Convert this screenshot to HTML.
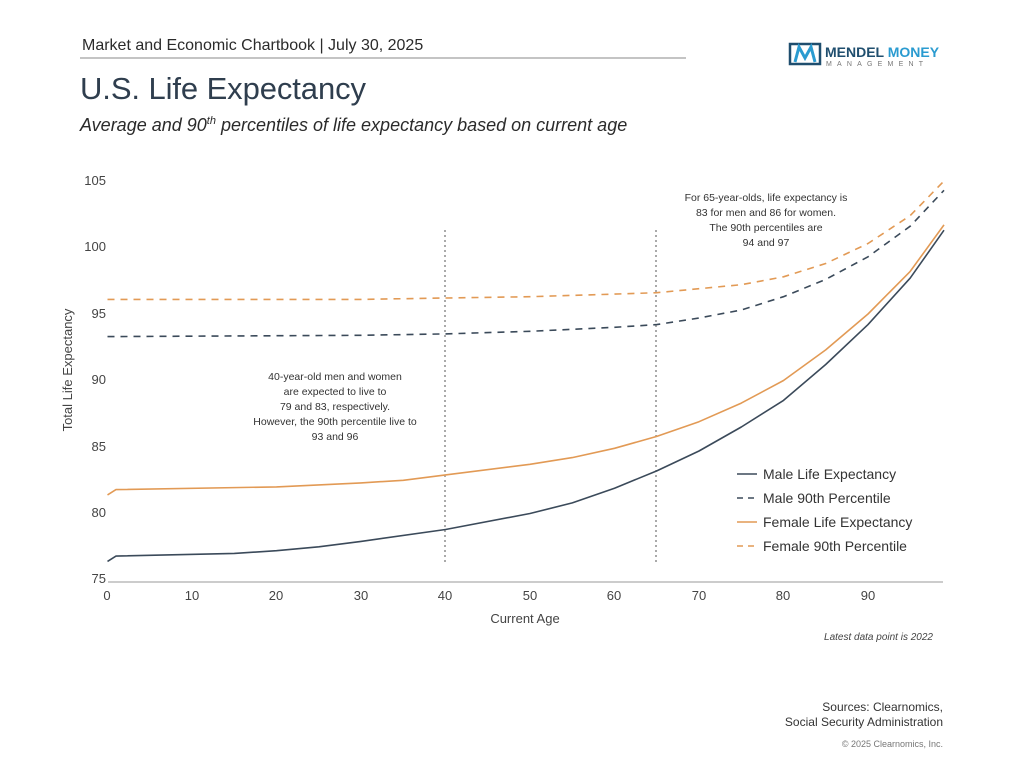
<!DOCTYPE html>
<html><head><meta charset="utf-8"><style>
body{margin:0;width:1024px;height:768px;background:#fff;font-family:"Liberation Sans",sans-serif;overflow:hidden}
</style></head><body>
<svg id="s" width="1024" height="768" xmlns="http://www.w3.org/2000/svg" font-family="Liberation Sans, sans-serif">
<text x="82" y="50" font-size="16" fill="#2b2b2b">Market and Economic Chartbook | July 30, 2025</text>
<line x1="80" y1="58" x2="686" y2="58" stroke="#888" stroke-width="1"/>
<text x="80" y="99" font-size="31" fill="#2f3e4e" textLength="286">U.S. Life Expectancy</text>
<text x="80" y="131" font-size="18" font-style="italic" fill="#2b2b2b">Average and 90<tspan font-size="11" dy="-7">th</tspan><tspan dy="7"> percentiles of life expectancy based on current age</tspan></text>
<rect x="790" y="44" width="30" height="20" fill="none" stroke="#1f4e6e" stroke-width="2.5"/>
<path d="M795 62 L799 47 L805 58 L811 47 L815 62" fill="none" stroke="#2a9bd0" stroke-width="3"/>
<text x="825" y="57" font-size="14" font-weight="bold" fill="#1f4e6e">MENDEL <tspan fill="#2a9bd0">MONEY</tspan></text>
<text x="826" y="66" font-size="7" letter-spacing="5.2" fill="#777">MANAGEMENT</text>
<g font-size="13" fill="#444" text-anchor="end">
<text x="106" y="185">105</text><text x="106" y="251">100</text><text x="106" y="318">95</text><text x="106" y="384">90</text><text x="106" y="451">85</text><text x="106" y="517">80</text><text x="106" y="583">75</text>
</g>
<line x1="108" y1="582" x2="943" y2="582" stroke="#999" stroke-width="1"/>
<g font-size="13" fill="#444" text-anchor="middle">
<text x="107" y="600">0</text><text x="192" y="600">10</text><text x="276" y="600">20</text><text x="361" y="600">30</text><text x="445" y="600">40</text><text x="530" y="600">50</text><text x="614" y="600">60</text><text x="699" y="600">70</text><text x="783" y="600">80</text><text x="868" y="600">90</text>
</g>
<text x="525" y="623" font-size="13" fill="#444" text-anchor="middle">Current Age</text>
<text transform="translate(72,370) rotate(-90)" font-size="13" fill="#444" text-anchor="middle">Total Life Expectancy</text>
<line x1="445" y1="230" x2="445" y2="562" stroke="#555" stroke-dasharray="2,3"/>
<line x1="656" y1="230" x2="656" y2="562" stroke="#555" stroke-dasharray="2,3"/>
<g font-size="10.5" fill="#333" text-anchor="middle">
<text x="335" y="380">40-year-old men and women</text><text x="335" y="395">are expected to live to</text><text x="335" y="410">79 and 83, respectively.</text><text x="335" y="425">However, the 90th percentile live to</text><text x="335" y="440">93 and 96</text>
<text x="766" y="201">For 65-year-olds, life expectancy is</text><text x="766" y="216">83 for men and 86 for women.</text><text x="766" y="231">The 90th percentiles are</text><text x="766" y="246">94 and 97</text>
</g>
<g id="lines"></g>
<g font-size="14" fill="#333">
<line x1="737" y1="474" x2="757" y2="474" stroke="#3b4a5a" stroke-width="1.6"/><text x="763" y="479">Male Life Expectancy</text>
<line x1="737" y1="498" x2="757" y2="498" stroke="#3b4a5a" stroke-width="1.6" stroke-dasharray="6,5"/><text x="763" y="503">Male 90th Percentile</text>
<line x1="737" y1="522" x2="757" y2="522" stroke="#e29a55" stroke-width="1.6"/><text x="763" y="527">Female Life Expectancy</text>
<line x1="737" y1="546" x2="757" y2="546" stroke="#e29a55" stroke-width="1.6" stroke-dasharray="6,5"/><text x="763" y="551">Female 90th Percentile</text>
</g>
<text x="933" y="640" font-size="10" font-style="italic" fill="#444" text-anchor="end">Latest data point is 2022</text>
<text x="943" y="711" font-size="12" fill="#333" text-anchor="end">Sources: Clearnomics,</text>
<text x="943" y="726" font-size="12" fill="#333" text-anchor="end">Social Security Administration</text>
<text x="943" y="747" font-size="9" fill="#777" text-anchor="end">© 2025 Clearnomics, Inc.</text>
</svg>
<script>
function X(a){return 107.5+a*8.45}function Y(v){return 580-(v-75)*13.3}
var D=[
["#3b4a5a","",[[0,76.4],[1,76.8],[15,77.0],[20,77.2],[25,77.5],[30,77.9],[40,78.8],[50,80.0],[55,80.8],[60,81.9],[65,83.2],[70,84.7],[75,86.5],[80,88.5],[85,91.2],[90,94.2],[95,97.7],[99,101.3]]],
["#e29a55","",[[0,81.4],[1,81.8],[20,82.0],[30,82.3],[35,82.5],[40,82.9],[50,83.7],[55,84.2],[60,84.9],[65,85.8],[70,86.9],[75,88.3],[80,90.0],[85,92.3],[90,95.0],[95,98.2],[99,101.7]]],
["#3b4a5a","7,6",[[0,93.3],[30,93.4],[40,93.5],[50,93.7],[60,94.0],[65,94.2],[70,94.7],[75,95.3],[80,96.3],[85,97.6],[90,99.3],[95,101.6],[99,104.3]]],
["#e29a55","7,6",[[0,96.1],[30,96.1],[40,96.2],[50,96.3],[60,96.5],[65,96.6],[70,96.9],[75,97.2],[80,97.8],[85,98.8],[90,100.3],[95,102.4],[99,105.0]]]];
var g=document.getElementById("lines"),h="";
D.forEach(function(d){var p=d[2].map(function(q){return X(q[0]).toFixed(1)+","+Y(q[1]).toFixed(1)}).join(" ");
h+='<polyline points="'+p+'" fill="none" stroke="'+d[0]+'" stroke-width="1.6" stroke-linejoin="round"'+(d[1]?' stroke-dasharray="'+d[1]+'"':'')+'/>';});
g.innerHTML=h;
</script>
</body></html>
